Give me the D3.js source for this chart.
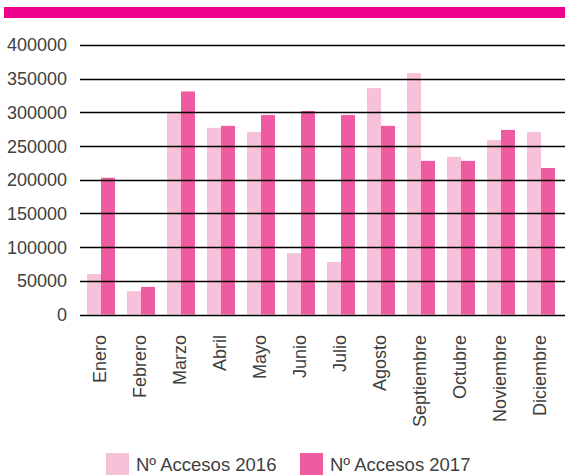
<!DOCTYPE html>
<html>
<head>
<meta charset="utf-8">
<script src="https://cdn.jsdelivr.net/npm/d3@7"></script>
<style>
  body { margin: 0; background: #fff; }
  text { font-family: "Liberation Sans", Arial, sans-serif; fill: #404040; }
</style>
</head>
<body>
<script>
// data
var months = ["Enero", "Febrero", "Marzo", "Abril", "Mayo", "Junio", "Julio",
              "Agosto", "Septiembre", "Octubre", "Noviembre", "Diciembre"];
var accesos2016 = [60000, 34500, 299000, 277000, 271000, 91000, 78000, 336000, 358500, 234000, 259000, 271000];
var accesos2017 = [203000, 41000, 331000, 280000, 296000, 302000, 296000, 280000, 228000, 228000, 274000, 217500];
var seriesNames = ["Nº Accesos 2016", "Nº Accesos 2017"];
var yTicks = [0, 50000, 100000, 150000, 200000, 250000, 300000, 350000, 400000];

var w = 565, h = 475;
var colors = ["#f7c1d9", "#ee5ba0"];

var svg = d3.select("body").append("svg")
    .attr("width", w)
    .attr("height", h);

// header bar
svg.append("rect")
    .attr("x", 4).attr("y", 7)
    .attr("width", 561).attr("height", 11)
    .attr("fill", "#ec008c");

var x = d3.scaleBand()
    .domain(months)
    .range([81, 561])
    .paddingInner(0.3)
    .paddingOuter(0.15);

var xs = d3.scaleBand()
    .domain([0, 1])
    .range([0, x.bandwidth()]);

var y = d3.scaleLinear()
    .domain([0, 400000])
    .range([314.5, 45]);

// bars
var groups = svg.selectAll("g.month")
    .data(months)
    .enter().append("g")
    .attr("class", "month")
    .attr("transform", function(d) { return "translate(" + x(d) + ",0)"; });

groups.selectAll("rect")
    .data(function(d, i) { return [accesos2016[i], accesos2017[i]]; })
    .enter().append("rect")
    .attr("x", function(d, j) { return xs(j); })
    .attr("width", xs.bandwidth())
    .attr("y", function(d) { return y(d); })
    .attr("height", function(d) { return y(0) - y(d); })
    .attr("fill", function(d, j) { return colors[j]; });

// grid lines (drawn over the bars, like the original)
svg.selectAll("line.grid")
    .data(yTicks)
    .enter().append("line")
    .attr("class", "grid")
    .attr("x1", 80).attr("x2", 565)
    .attr("y1", function(d) { return Math.round(y(d)) + 0.5; })
    .attr("y2", function(d) { return Math.round(y(d)) + 0.5; })
    .attr("stroke", "#000")
    .attr("stroke-width", 1.4);

// y labels
svg.selectAll("text.ylab")
    .data(yTicks)
    .enter().append("text")
    .attr("class", "ylab")
    .attr("x", 67)
    .attr("y", function(d) { return y(d); })
    .attr("dy", "0.36em")
    .attr("text-anchor", "end")
    .style("font-size", "18px")
    .text(function(d) { return d; });

// x labels
svg.selectAll("text.xlab")
    .data(months)
    .enter().append("text")
    .attr("class", "xlab")
    .attr("transform", function(d) {
        return "translate(" + (x(d) + x.bandwidth() / 2 - 1.5) + ",335) rotate(-90)";
    })
    .attr("dy", "0.35em")
    .attr("text-anchor", "end")
    .style("font-size", "18px")
    .text(function(d) { return d; });

// legend
var legendX = [106, 300];
var legend = svg.selectAll("g.legend")
    .data(seriesNames)
    .enter().append("g")
    .attr("class", "legend")
    .attr("transform", function(d, i) { return "translate(" + legendX[i] + ",453)"; });

legend.append("rect")
    .attr("width", 23).attr("height", 23)
    .attr("fill", function(d, i) { return colors[i]; });

legend.append("text")
    .attr("x", 30)
    .attr("y", 18)
    .style("font-size", "18.5px")
    .text(function(d) { return d; });
</script>
</body>
</html>
